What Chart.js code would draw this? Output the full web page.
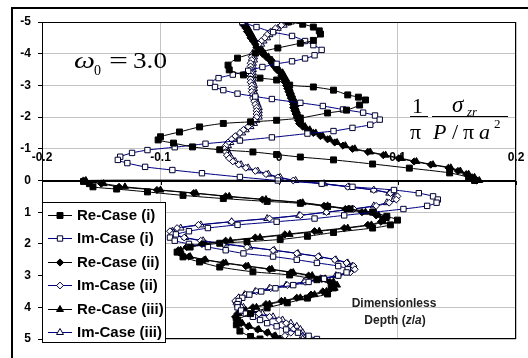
<!DOCTYPE html>
<html><head><meta charset="utf-8">
<script src="https://cdn.jsdelivr.net/npm/chart.js@4.4.1/dist/chart.umd.min.js"></script>
<style>
html,body{margin:0;padding:0;background:#fff;}
#wrap{position:relative;width:528px;height:358px;overflow:hidden;background:#fff;}
#c{position:absolute;left:0;top:0;}
#ov{position:absolute;left:0;top:0;pointer-events:none;}
</style></head><body>
<div id="wrap">
<canvas id="c" width="528" height="358"></canvas>
<svg id="ov" width="528" height="358" xmlns="http://www.w3.org/2000/svg">
 <g font-family="'Liberation Serif','Times New Roman',serif" fill="#000">
  <text x="74" y="68" font-size="24" font-style="italic" textLength="21" lengthAdjust="spacingAndGlyphs">ω</text>
  <text x="94" y="75" font-size="14">0</text>
  <text x="109" y="68" font-size="24" textLength="19" lengthAdjust="spacingAndGlyphs">=</text>
  <text x="133" y="68" font-size="24" textLength="34" lengthAdjust="spacingAndGlyphs">3.0</text>
  <text x="412" y="113" font-size="22">1</text>
  <line x1="410" y1="116.5" x2="428" y2="116.5" stroke="#000" stroke-width="1"/>
  <text x="452" y="112" font-size="23" font-style="italic">σ</text>
  <text x="467" y="116" font-size="13" font-style="italic">zr</text>
  <line x1="432" y1="116.5" x2="508" y2="116.5" stroke="#000" stroke-width="1"/>
  <text x="410" y="139" font-size="22">π</text>
  <text x="433" y="139" font-size="22" font-style="italic">P</text>
  <text x="452" y="139" font-size="22">/</text>
  <text x="463" y="139" font-size="22">π</text>
  <text x="479" y="139" font-size="22" font-style="italic">a</text>
  <text x="494" y="128" font-size="13">2</text>
 </g>
 <g font-family="'Liberation Sans',Arial,sans-serif" font-weight="bold" font-size="12" fill="#222" text-anchor="middle">
  <text x="394" y="307">Dimensionless</text>
  <text x="395" y="324">Depth (<tspan font-style="italic">z</tspan>/<tspan font-style="italic">a</tspan>)</text>
 </g>
</svg>
</div>
<script>
// ---- data: [stress, depth z/a] ----
const seriesNames = ['Re-Case (i)','Im-Case (i)','Re-Case (ii)','Im-Case (ii)','Re-Case (iii)','Im-Case (iii)'];
const xTickValues = [-0.2,-0.1,0,0.1,0.2];
const xTickLabels = ['-0.2','-0.1','0','0.1','0.2'];

const reCase1 = [
[0.008,-5.0],[0.020,-4.93],[0.029,-4.84],[0.034,-4.72],[0.035,-4.62],[0.029,-4.42],[0.018,-4.33],[-0.001,-4.18],[-0.020,-4.02],[-0.035,-3.86],[-0.043,-3.64],[-0.042,-3.49],[-0.030,-3.33],[-0.016,-3.23],[-0.002,-3.17],[0.009,-3.01],[0.029,-2.95],[0.046,-2.85],[0.058,-2.70],[0.067,-2.63],[0.073,-2.54],[0.068,-2.38],[0.057,-2.22],[0.041,-2.13],[0.018,-1.97],[-0.002,-1.90],[-0.024,-1.85],[-0.047,-1.80],[-0.067,-1.69],[-0.084,-1.53],[-0.100,-1.38],[-0.102,-1.28],[-0.089,-1.18],[-0.073,-1.06],[-0.050,-0.97],[-0.022,-0.90],[-0.002,-0.82],[0.018,-0.74],[0.046,-0.65],[0.079,-0.52],[0.110,-0.39],[0.144,-0.24],[0.160,-0.10],[0.165,0.0],
[-0.165,0.03],[-0.160,0.10],[-0.157,0.20],[-0.137,0.27],[-0.111,0.36],[-0.081,0.47],[-0.047,0.57],[-0.010,0.66],[0.018,0.72],[0.041,0.82],[0.060,0.90],[0.079,1.00],[0.091,1.13],[0.100,1.25],[0.094,1.40],[0.079,1.50],[0.046,1.64],[0.024,1.76],[0.001,1.86],[-0.027,1.93],[-0.050,1.98],[-0.075,2.10],[-0.086,2.26],[-0.081,2.41],[-0.067,2.57],[-0.050,2.73],[-0.022,2.88],[0.009,2.98],[0.032,3.13],[0.044,3.28],[0.046,3.39],[0.041,3.58],[0.024,3.71],[0.007,3.86],[-0.010,4.02],[-0.024,4.20],[-0.035,4.40],[-0.036,4.55],[-0.033,4.75],[-0.024,4.92],[-0.016,5.0]
];

const imCase1 = [
[-0.031,-5.0],[-0.019,-4.84],[-0.005,-4.68],[0.011,-4.56],[0.022,-4.40],[0.029,-4.27],[0.036,-4.12],[0.030,-3.95],[0.022,-3.85],[0.011,-3.76],[-0.002,-3.68],[-0.014,-3.58],[-0.026,-3.46],[-0.039,-3.34],[-0.051,-3.23],[-0.058,-3.08],[-0.054,-2.95],[-0.047,-2.85],[-0.035,-2.74],[-0.020,-2.65],[-0.006,-2.57],[0.018,-2.45],[0.037,-2.35],[0.054,-2.24],[0.071,-2.14],[0.081,-2.05],[0.085,-1.92],[0.077,-1.76],[0.062,-1.66],[0.046,-1.56],[0.024,-1.48],[-0.006,-1.36],[-0.033,-1.26],[-0.062,-1.16],[-0.088,-1.05],[-0.111,-0.96],[-0.124,-0.87],[-0.134,-0.75],[-0.136,-0.65],[-0.128,-0.55],[-0.113,-0.43],[-0.090,-0.33],[-0.065,-0.23],[-0.033,-0.11],[-0.001,0.0],
[0.036,0.1],[0.062,0.2],[0.097,0.3],[0.118,0.4],[0.130,0.5],[0.134,0.6],[0.133,0.7],[0.125,0.8],[0.105,0.9],[0.080,1.0],[0.055,1.1],[0.030,1.2],[-0.002,1.3],[-0.035,1.4],[-0.060,1.5],[-0.076,1.6],[-0.087,1.7],[-0.092,1.8],[-0.088,1.9],[-0.076,2.0],[-0.060,2.1],[-0.045,2.2],[-0.030,2.3],[-0.005,2.4],[0.015,2.5],[0.032,2.6],[0.050,2.7],[0.058,2.8],[0.057,2.9],[0.050,3.0],[0.038,3.1],[0.025,3.2],[0.012,3.3],[-0.003,3.4],[-0.015,3.5],[-0.025,3.6],[-0.031,3.7],[-0.034,3.8],[-0.035,3.9],[-0.035,4.0],[-0.032,4.1],[-0.028,4.2],[-0.022,4.3],[-0.016,4.4],[-0.010,4.5],[-0.002,4.6],[0.006,4.7],[0.016,4.8],[0.025,4.9],[0.032,5.0]
];

const reCase2 = [
[-0.031,-5.0],[-0.030,-4.9],[-0.028,-4.8],[-0.027,-4.7],[-0.025,-4.6],[-0.024,-4.5],[-0.022,-4.4],[-0.020,-4.3],[-0.019,-4.2],[-0.016,-4.1],[-0.014,-4.0],[-0.011,-3.9],[-0.008,-3.8],[-0.006,-3.7],[-0.004,-3.6],[-0.002,-3.5],[0.001,-3.4],[0.002,-3.3],[0.004,-3.2],[0.005,-3.1],[0.006,-3.0],[0.007,-2.9],[0.008,-2.8],[0.009,-2.7],[0.010,-2.6],[0.011,-2.5],[0.012,-2.4],[0.012,-2.3],[0.013,-2.2],[0.014,-2.1],[0.015,-2.0],[0.016,-1.9],[0.017,-1.8],[0.020,-1.7],[0.024,-1.6],[0.029,-1.5],[0.035,-1.4],[0.041,-1.3],[0.047,-1.2],[0.054,-1.1],[0.062,-1.0],[0.075,-0.9],[0.088,-0.8],[0.101,-0.7],[0.114,-0.6],[0.128,-0.5],[0.143,-0.4],[0.151,-0.3],[0.158,-0.2],[0.163,-0.1],[0.167,0.0],
[-0.165,0.0],[-0.150,0.1],[-0.135,0.2],[-0.103,0.3],[-0.072,0.4],[-0.045,0.5],[-0.014,0.6],[0.018,0.7],[0.038,0.8],[0.056,0.9],[0.070,1.0],[0.082,1.1],[0.088,1.2],[0.086,1.3],[0.075,1.4],[0.055,1.5],[0.030,1.6],[0.005,1.7],[-0.020,1.8],[-0.045,1.9],[-0.065,2.0],[-0.078,2.1],[-0.085,2.2],[-0.083,2.3],[-0.076,2.4],[-0.063,2.5],[-0.047,2.6],[-0.028,2.7],[-0.008,2.8],[0.010,2.9],[0.025,3.0],[0.036,3.1],[0.043,3.2],[0.046,3.3],[0.044,3.4],[0.037,3.5],[0.027,3.6],[0.015,3.7],[0.002,3.8],[-0.011,3.9],[-0.022,4.0],[-0.030,4.1],[-0.035,4.2],[-0.037,4.3],[-0.036,4.4],[-0.032,4.5],[-0.026,4.6],[-0.018,4.7],[-0.010,4.8],[-0.004,4.9],[0.000,5.0]
];

const imCase2 = [
[0.008,-5.0],[0.002,-4.9],[-0.003,-4.8],[-0.007,-4.7],[-0.010,-4.6],[-0.012,-4.5],[-0.015,-4.4],[-0.017,-4.3],[-0.019,-4.2],[-0.020,-4.1],[-0.022,-4.0],[-0.023,-3.9],[-0.023,-3.8],[-0.024,-3.7],[-0.024,-3.6],[-0.024,-3.5],[-0.024,-3.4],[-0.024,-3.3],[-0.024,-3.2],[-0.024,-3.1],[-0.023,-3.0],[-0.023,-2.9],[-0.023,-2.8],[-0.022,-2.7],[-0.022,-2.6],[-0.021,-2.5],[-0.020,-2.4],[-0.019,-2.3],[-0.019,-2.2],[-0.019,-2.1],[-0.019,-2.0],[-0.021,-1.9],[-0.023,-1.8],[-0.026,-1.7],[-0.030,-1.6],[-0.033,-1.5],[-0.037,-1.4],[-0.040,-1.3],[-0.043,-1.2],[-0.045,-1.1],[-0.046,-1.0],[-0.045,-0.9],[-0.044,-0.8],[-0.042,-0.7],[-0.039,-0.6],[-0.034,-0.5],[-0.028,-0.4],[-0.020,-0.3],[-0.011,-0.2],[-0.001,-0.1],[0.012,0.0],
[0.036,0.1],[0.058,0.2],[0.080,0.3],[0.094,0.4],[0.100,0.5],[0.099,0.6],[0.093,0.7],[0.082,0.8],[0.063,0.9],[0.040,1.0],[0.018,1.1],[-0.008,1.2],[-0.040,1.3],[-0.068,1.4],[-0.086,1.5],[-0.092,1.6],[-0.090,1.7],[-0.080,1.8],[-0.066,1.9],[-0.047,2.0],[-0.027,2.1],[-0.005,2.2],[0.015,2.3],[0.033,2.4],[0.047,2.5],[0.057,2.6],[0.063,2.7],[0.064,2.8],[0.060,2.9],[0.050,3.0],[0.037,3.1],[0.022,3.2],[0.007,3.3],[-0.007,3.4],[-0.019,3.5],[-0.028,3.6],[-0.034,3.7],[-0.037,3.8],[-0.036,3.9],[-0.032,4.0],[-0.025,4.1],[-0.017,4.2],[-0.008,4.3],[0.000,4.4],[0.006,4.5],[0.010,4.6],[0.012,4.7],[0.010,4.8],[0.005,4.9],[0.000,5.0]
];

const reCase3 = [
[-0.029,-5.0],[-0.028,-4.9],[-0.026,-4.8],[-0.025,-4.7],[-0.023,-4.6],[-0.022,-4.5],[-0.020,-4.4],[-0.018,-4.3],[-0.017,-4.2],[-0.014,-4.1],[-0.012,-4.0],[-0.009,-3.9],[-0.006,-3.8],[-0.004,-3.7],[-0.002,-3.6],[0.000,-3.5],[0.003,-3.4],[0.004,-3.3],[0.006,-3.2],[0.007,-3.1],[0.008,-3.0],[0.009,-2.9],[0.010,-2.8],[0.011,-2.7],[0.012,-2.6],[0.013,-2.5],[0.014,-2.4],[0.014,-2.3],[0.015,-2.2],[0.016,-2.1],[0.017,-2.0],[0.018,-1.9],[0.019,-1.8],[0.022,-1.7],[0.026,-1.6],[0.031,-1.5],[0.037,-1.4],[0.043,-1.3],[0.049,-1.2],[0.056,-1.1],[0.064,-1.0],[0.077,-0.9],[0.090,-0.8],[0.103,-0.7],[0.116,-0.6],[0.130,-0.5],[0.145,-0.4],[0.153,-0.3],[0.160,-0.2],[0.165,-0.1],[0.169,0.0],
[-0.163,0.0],[-0.148,0.1],[-0.130,0.2],[-0.100,0.3],[-0.070,0.4],[-0.042,0.5],[-0.011,0.6],[0.020,0.7],[0.041,0.8],[0.059,0.9],[0.073,1.0],[0.084,1.1],[0.090,1.2],[0.088,1.3],[0.078,1.4],[0.058,1.5],[0.034,1.6],[0.009,1.7],[-0.016,1.8],[-0.041,1.9],[-0.062,2.0],[-0.076,2.1],[-0.083,2.2],[-0.082,2.3],[-0.075,2.4],[-0.062,2.5],[-0.045,2.6],[-0.026,2.7],[-0.006,2.8],[0.012,2.9],[0.028,3.0],[0.039,3.1],[0.046,3.2],[0.049,3.3],[0.047,3.4],[0.040,3.5],[0.030,3.6],[0.018,3.7],[0.005,3.8],[-0.008,3.9],[-0.019,4.0],[-0.028,4.1],[-0.034,4.2],[-0.036,4.3],[-0.035,4.4],[-0.031,4.5],[-0.025,4.6],[-0.017,4.7],[-0.009,4.8],[-0.003,4.9],[0.001,5.0]
];

const imCase3 = [
[0.010,-5.0],[0.004,-4.9],[-0.001,-4.8],[-0.005,-4.7],[-0.008,-4.6],[-0.010,-4.5],[-0.013,-4.4],[-0.015,-4.3],[-0.017,-4.2],[-0.018,-4.1],[-0.020,-4.0],[-0.021,-3.9],[-0.021,-3.8],[-0.022,-3.7],[-0.022,-3.6],[-0.022,-3.5],[-0.022,-3.4],[-0.022,-3.3],[-0.022,-3.2],[-0.022,-3.1],[-0.021,-3.0],[-0.021,-2.9],[-0.021,-2.8],[-0.020,-2.7],[-0.020,-2.6],[-0.019,-2.5],[-0.018,-2.4],[-0.017,-2.3],[-0.017,-2.2],[-0.017,-2.1],[-0.017,-2.0],[-0.019,-1.9],[-0.021,-1.8],[-0.024,-1.7],[-0.028,-1.6],[-0.031,-1.5],[-0.035,-1.4],[-0.038,-1.3],[-0.041,-1.2],[-0.043,-1.1],[-0.044,-1.0],[-0.043,-0.9],[-0.042,-0.8],[-0.040,-0.7],[-0.037,-0.6],[-0.032,-0.5],[-0.026,-0.4],[-0.018,-0.3],[-0.009,-0.2],[0.001,-0.1],[0.014,0.0],
[0.038,0.1],[0.059,0.2],[0.080,0.3],[0.093,0.4],[0.098,0.5],[0.097,0.6],[0.091,0.7],[0.080,0.8],[0.062,0.9],[0.040,1.0],[0.017,1.1],[-0.010,1.2],[-0.040,1.3],[-0.066,1.4],[-0.083,1.5],[-0.090,1.6],[-0.088,1.7],[-0.079,1.8],[-0.064,1.9],[-0.045,2.0],[-0.025,2.1],[-0.004,2.2],[0.016,2.3],[0.034,2.4],[0.048,2.5],[0.058,2.6],[0.062,2.7],[0.062,2.8],[0.057,2.9],[0.048,3.0],[0.035,3.1],[0.021,3.2],[0.006,3.3],[-0.008,3.4],[-0.020,3.5],[-0.029,3.6],[-0.034,3.7],[-0.036,3.8],[-0.035,3.9],[-0.030,4.0],[-0.023,4.1],[-0.014,4.2],[-0.005,4.3],[0.003,4.4],[0.010,4.5],[0.015,4.6],[0.018,4.7],[0.020,4.8],[0.020,4.9],[0.020,5.0]
];

// ---- chart ----
const FONT = '"Liberation Sans", Arial, sans-serif';
const toPts = arr => arr.map(p => ({x: p[0], y: p[1]}));
const styles = [
  {line:'#000000', style:'rect',    r:4.2, fill:'#000000', edge:'#000000'},
  {line:'#000080', style:'rect',    r:3.8, fill:'#ffffff', edge:'#000033'},
  {line:'#000000', style:'rectRot', r:3.6, fill:'#000000', edge:'#000000'},
  {line:'#000080', style:'rectRot', r:3.4, fill:'#ffffff', edge:'#000033'},
  {line:'#000000', style:'triangle',r:4.0, fill:'#000000', edge:'#000000'},
  {line:'#000080', style:'triangle',r:4.0, fill:'#ffffff', edge:'#000033'}
];
const allData = [reCase1, imCase1, reCase2, imCase2, reCase3, imCase3];

const datasets = allData.map((d, i) => ({
  label: seriesNames[i],
  data: toPts(d),
  showLine: true,
  borderColor: styles[i].line,
  borderWidth: 1,
  tension: 0.25,
  pointStyle: styles[i].style,
  pointRadius: styles[i].r,
  pointBackgroundColor: styles[i].fill,
  pointBorderColor: styles[i].edge,
  pointBorderWidth: 1,
  backgroundColor: styles[i].fill
}));

const decor = {
  id: 'decor',
  beforeDraw(chart) {
    const ctx = chart.ctx;
    ctx.save(); ctx.fillStyle = '#fff'; ctx.fillRect(0, 0, chart.width, chart.height); ctx.restore();
  },
  beforeDatasetsDraw(chart) {
    const {ctx, chartArea: a, scales: {x, y}} = chart;
    ctx.save();
    const y0 = Math.round(y.getPixelForValue(0));
    ctx.fillStyle = '#000';
    ctx.fillRect(a.left, y0 - 1, a.right - a.left, 2);
    ctx.strokeStyle = '#000'; ctx.lineWidth = 1;
    xTickValues.forEach(v => {
      const px = Math.round(x.getPixelForValue(v)) + 0.5;
      ctx.beginPath(); ctx.moveTo(px, y0); ctx.lineTo(px, y0 + 4); ctx.stroke();
    });
    ctx.font = 'bold 12px ' + FONT;
    ctx.textAlign = 'center'; ctx.textBaseline = 'middle';
    xTickValues.forEach((v, i) => ctx.fillText(xTickLabels[i], x.getPixelForValue(v), y0 - 23));
    ctx.restore();
  },
  afterDatasetsDraw(chart) {
    const {ctx, chartArea: a} = chart;
    ctx.save();
    ctx.strokeStyle = '#000'; ctx.lineWidth = 1;
    ctx.strokeRect(a.left + 0.5, a.top + 0.5, a.right - a.left - 1, a.bottom - a.top - 1);
    // legend
    const lx = 42, ly = 202, lw = 124, lh = 141;
    ctx.fillStyle = '#fff'; ctx.fillRect(lx, ly, lw, lh);
    ctx.strokeRect(lx + 0.5, ly + 0.5, lw - 1, lh - 1);
    chart.data.datasets.forEach((ds, i) => {
      const cy = Math.round(215 + i * 23.4) + 0.5;
      ctx.strokeStyle = ds.borderColor; ctx.lineWidth = 1;
      ctx.beginPath(); ctx.moveTo(48, cy); ctx.lineTo(72, cy); ctx.stroke();
      ctx.fillStyle = ds.pointBackgroundColor; ctx.strokeStyle = ds.pointBorderColor;
      Chart.helpers.drawPoint(ctx, {pointStyle: ds.pointStyle, radius: ds.pointRadius, borderWidth: 1, rotation: 0}, 60, cy);
      ctx.fillStyle = '#000';
      ctx.font = 'bold 15px ' + FONT;
      ctx.textAlign = 'left'; ctx.textBaseline = 'middle';
      ctx.fillText(ds.label, 77, cy);
    });
    ctx.restore();
  },
  afterDraw(chart) {
    const ctx = chart.ctx;
    ctx.save();
    ctx.fillStyle = '#000';
    ctx.fillRect(11, 7, chart.width - 11, 2);
    ctx.fillRect(11, 7, 2, chart.height - 7);
    ctx.restore();
  }
};

new Chart(document.getElementById('c'), {
  type: 'scatter',
  data: {datasets},
  options: {
    responsive: false,
    animation: false,
    devicePixelRatio: 1,
    layout: {padding: {top: 22, right: 12, left: 0, bottom: 0}},
    plugins: {legend: {display: false}, tooltip: {enabled: false}},
    scales: {
      x: {
        type: 'linear', min: -0.2, max: 0.2,
        ticks: {display: false, stepSize: 0.1},
        grid: {color: '#c4c4c4', lineWidth: 1, drawTicks: false},
        border: {display: false},
        afterFit(s) { s.height = 19; }
      },
      y: {
        type: 'linear', min: -5, max: 5, reverse: true,
        ticks: {stepSize: 1, color: '#000', padding: 7, font: {family: FONT, size: 12, weight: 'bold'}},
        grid: {color: '#c4c4c4', lineWidth: 1, tickColor: '#000', tickLength: 4},
        border: {display: false},
        afterFit(s) { s.width = 42; }
      }
    }
  },
  plugins: [decor]
});
</script>
</body></html>
